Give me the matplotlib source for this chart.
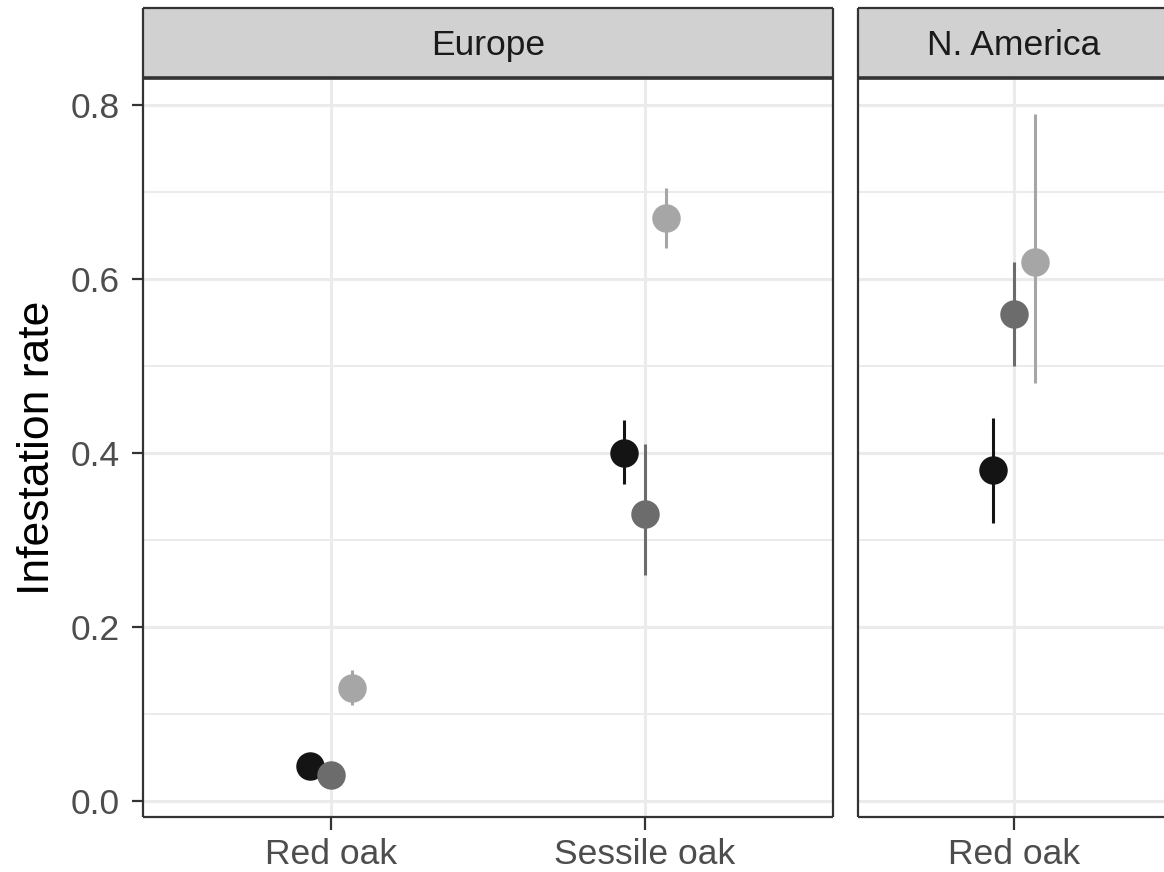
import matplotlib
matplotlib.use("Agg")
import matplotlib.pyplot as plt

plt.rcParams['font.family'] = ['Liberation Sans', 'DejaVu Sans']

# ---- data ----
eu_categories = ["Red oak", "Sessile oak"]
na_categories = ["Red oak"]
strip_labels = ["Europe", "N. America"]
y_ticks = [0.0, 0.2, 0.4, 0.6, 0.8]
y_ticklabels = ["0.0", "0.2", "0.4", "0.6", "0.8"]
y_minor = [0.1, 0.3, 0.5, 0.7]
y_label = "Infestation rate"

group_colors = ["#141414", "#6c6c6c", "#a6a6a6"]

# Europe (per category: Red oak, Sessile oak)
eu_g1_mean = [0.04, 0.40]
eu_g1_lo = [0.03, 0.364]
eu_g1_hi = [0.05, 0.438]
eu_g2_mean = [0.03, 0.33]
eu_g2_lo = [0.02, 0.26]
eu_g2_hi = [0.04, 0.41]
eu_g3_mean = [0.13, 0.67]
eu_g3_lo = [0.11, 0.636]
eu_g3_hi = [0.151, 0.705]

# N. America (Red oak)
na_g1_mean = [0.38]
na_g1_lo = [0.32]
na_g1_hi = [0.44]
na_g2_mean = [0.56]
na_g2_lo = [0.50]
na_g2_hi = [0.62]
na_g3_mean = [0.62]
na_g3_lo = [0.48]
na_g3_hi = [0.79]

W, H = 1164, 872
fig = plt.figure(figsize=(W / 100, H / 100), dpi=100)

ylim = (-0.0184, 0.831)
TXT = 25.5
border = "#333333"
grid_c = "#ebebeb"


def px_axes(x0, y_top, x1, y_bot):
    return [x0 / W, 1 - y_bot / H, (x1 - x0) / W, (y_bot - y_top) / H]


def make_panel(rect, cats, groups, strip_text, show_y):
    ax = fig.add_axes(rect)
    n = len(cats)
    xlim = (-0.6, n - 1 + 0.6)
    ax.set_xlim(*xlim)
    ax.set_ylim(*ylim)
    panel_px = rect[2] * W
    dodge = 21 / (panel_px / (xlim[1] - xlim[0]))
    xs = list(range(n))
    # grid
    for y in y_minor:
        ax.axhline(y, color=grid_c, lw=1.4, zorder=0)
    for y in y_ticks:
        ax.axhline(y, color=grid_c, lw=2.2, zorder=0)
    for x in xs:
        ax.axvline(x, color=grid_c, lw=2.2, zorder=0)
    offs = [-dodge, 0, dodge]
    for (m, lo, hi), col, off in zip(groups, group_colors, offs):
        for x, mv, l, h in zip(xs, m, lo, hi):
            ax.plot([x + off, x + off], [l, h], color=col, lw=2.2,
                    solid_capstyle='butt', zorder=2)
            ax.plot([x + off], [mv], 'o', color=col, ms=20.5,
                    markeredgewidth=0, zorder=3)
    ax.set_xticks(xs)
    ax.set_xticklabels(cats, fontsize=TXT, color="#4d4d4d")
    ax.set_yticks(y_ticks)
    if show_y:
        ax.set_yticklabels(y_ticklabels, fontsize=TXT, color="#4d4d4d")
        ax.set_ylabel(y_label, fontsize=32, color="black", labelpad=9)
        ax.tick_params(axis='y', length=8, width=1.6, color=border, pad=9)
    else:
        ax.tick_params(axis='y', left=False, labelleft=False)
    ax.tick_params(axis='x', length=9, width=1.6, color=border, pad=6)
    for s in ax.spines.values():
        s.set_color(border)
        s.set_linewidth(1.6)
        s.set_capstyle('butt')
    # strip
    sax = fig.add_axes([rect[0], 1 - 78 / H, rect[2], (78 - 8) / H])
    sax.set_xlim(0, 1)
    sax.set_ylim(0, 1)
    sax.set_facecolor("#d1d1d1")
    sax.set_xticks([])
    sax.set_yticks([])
    for s in sax.spines.values():
        s.set_color(border)
        s.set_linewidth(1.6)
        s.set_capstyle('butt')
    sax.spines['bottom'].set_linewidth(2.6)
    sax.text(0.5, 0.47, strip_text, ha='center', va='center', fontsize=TXT,
             color="#1a1a1a")
    return ax


eu_groups = [(eu_g1_mean, eu_g1_lo, eu_g1_hi),
             (eu_g2_mean, eu_g2_lo, eu_g2_hi),
             (eu_g3_mean, eu_g3_lo, eu_g3_hi)]
na_groups = [(na_g1_mean, na_g1_lo, na_g1_hi),
             (na_g2_mean, na_g2_lo, na_g2_hi),
             (na_g3_mean, na_g3_lo, na_g3_hi)]

make_panel(px_axes(143, 78, 833, 817), eu_categories, eu_groups,
           strip_labels[0], True)
make_panel(px_axes(858, 78, 1170, 817), na_categories, na_groups,
           strip_labels[1], False)

fig.savefig("out.png", dpi=100)
